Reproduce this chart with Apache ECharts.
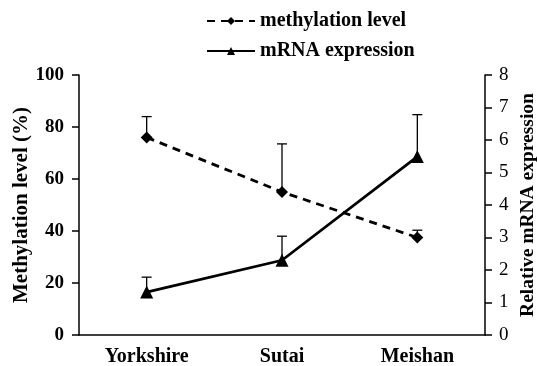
<!DOCTYPE html>
<html>
<head>
<meta charset="utf-8">
<script src="https://cdn.jsdelivr.net/npm/echarts@6/dist/echarts.min.js"></script>
<style>
  html, body { margin: 0; padding: 0; background: #fff; }
  #chart { width: 537px; height: 366px; }
</style>
</head>
<body>
<div id="chart"></div>
<script>
// Breeds on the category axis
const breeds = ['Yorkshire', 'Sutai', 'Meishan'];
// Methylation level (%) and its upper error
const methylation = [76, 55, 37.5];
const methylationErr = [8, 18.5, 2.8];
// Relative mRNA expression and its upper error
const mrna = [1.32, 2.3, 5.49];
const mrnaErr = [0.46, 0.74, 1.29];
// Axis ticks
const leftTicks = [0, 20, 40, 60, 80, 100];
const rightTicks = [0, 1, 2, 3, 4, 5, 6, 7, 8];

const serif = '"Liberation Serif", "Times New Roman", serif';

function errorBars(values, errs) {
  return breeds.map((b, i) => [i, values[i], values[i] + errs[i]]);
}

function renderErr(params, api) {
  const base = api.coord([api.value(0), api.value(1)]);
  const top = api.coord([api.value(0), api.value(2)]);
  const cap = 5;
  return {
    type: 'group',
    children: [
      { type: 'line', shape: { x1: base[0], y1: base[1], x2: top[0], y2: top[1] },
        style: { stroke: '#000', lineWidth: 1.3 } },
      { type: 'line', shape: { x1: top[0] - cap, y1: top[1], x2: top[0] + cap, y2: top[1] },
        style: { stroke: '#000', lineWidth: 1.3 } }
    ]
  };
}

const chart = echarts.init(document.getElementById('chart'));
chart.setOption({
  animation: false,
  backgroundColor: '#fff',
  textStyle: { fontFamily: serif },
  legend: {
    orient: 'vertical',
    left: 201,
    top: 6,
    itemGap: 10,
    itemWidth: 48,
    itemHeight: 10,
    textStyle: { fontFamily: serif, fontWeight: 'bold', fontSize: 20, color: '#000' },
    data: ['methylation level', 'mRNA expression']
  },
  grid: { left: 79, right: 52, top: 75, bottom: 31, containLabel: false, outerBoundsMode: 'none' },
  xAxis: {
    type: 'category',
    data: breeds,
    axisLine: { lineStyle: { color: '#000', width: 1.5 } },
    axisTick: { length: 6, lineStyle: { color: '#000', width: 1.5 } },
    axisLabel: { color: '#000', fontFamily: serif, fontWeight: 'bold', fontSize: 20, margin: 12 }
  },
  yAxis: [
    {
      type: 'value', min: leftTicks[0], max: leftTicks[leftTicks.length - 1], interval: 20,
      name: 'Methylation level (%)',
      nameLocation: 'middle', nameGap: 47, nameMoveOverlap: false,
      nameTextStyle: { color: '#000', fontFamily: serif, fontWeight: 'bold', fontSize: 21 },
      axisLine: { show: true, lineStyle: { color: '#000', width: 1.5 } },
      axisTick: { show: true, length: 7, lineStyle: { color: '#000', width: 1.5 } },
      axisLabel: { color: '#000', fontFamily: serif, fontWeight: 'bold', fontSize: 19, margin: 15 },
      splitLine: { show: false }
    },
    {
      type: 'value', min: rightTicks[0], max: rightTicks[rightTicks.length - 1], interval: 1,
      name: 'Relative mRNA expression',
      nameLocation: 'middle', nameGap: 33, nameRotate: 90, nameMoveOverlap: false,
      nameTextStyle: { color: '#000', fontFamily: serif, fontWeight: 'bold', fontSize: 19.5 },
      axisLine: { show: true, lineStyle: { color: '#000', width: 1.5 } },
      axisTick: { show: true, length: 7, lineStyle: { color: '#000', width: 1.5 } },
      axisLabel: { color: '#000', fontFamily: serif, fontSize: 19, margin: 14 },
      splitLine: { show: false }
    }
  ],
  series: [
    {
      name: 'methylation level', type: 'line', yAxisIndex: 0, data: methylation,
      symbol: 'diamond', symbolSize: 12,
      lineStyle: { color: '#000', width: 2.8, type: [8, 6] },
      itemStyle: { color: '#000' },
      z: 3
    },
    {
      name: 'mRNA expression', type: 'line', yAxisIndex: 1, data: mrna,
      symbol: 'triangle', symbolSize: 13,
      lineStyle: { color: '#000', width: 2.8 },
      itemStyle: { color: '#000' },
      z: 3
    },
    {
      type: 'custom', yAxisIndex: 0, data: errorBars(methylation, methylationErr),
      renderItem: renderErr, silent: true, z: 2
    },
    {
      type: 'custom', yAxisIndex: 1, data: errorBars(mrna, mrnaErr),
      renderItem: renderErr, silent: true, z: 2
    }
  ]
});
</script>
</body>
</html>
